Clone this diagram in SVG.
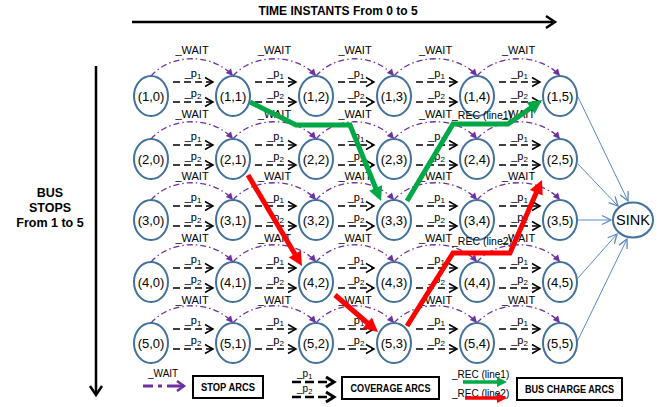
<svg xmlns="http://www.w3.org/2000/svg" width="670" height="407" viewBox="0 0 670 407">
<style>
text{font-family:"Liberation Sans",Arial,sans-serif;fill:#000}
.node ellipse{fill:#fff;stroke:#41719C;stroke-width:2}
.node text{font-size:13px;text-anchor:middle}
.wait{fill:none;stroke:#7030A0;stroke-width:1.3;stroke-dasharray:6 3 1.5 3;marker-end:url(#mp)}
.cov{fill:none;stroke:#000;stroke-width:1.4;stroke-dasharray:7 4;marker-end:url(#mb)}
.wl{font-size:11px;text-anchor:middle}
.pl{font-size:11px;text-anchor:middle}
.sk{fill:none;stroke:#5B88C6;stroke-width:1;marker-end:url(#ms)}
.g{fill:none;stroke:#00A846;stroke-width:5;stroke-linejoin:miter}
.r{fill:none;stroke:#FF0000;stroke-width:5;stroke-linejoin:miter}
.bx{fill:#fff;stroke:#000;stroke-width:2}
.bt{font-size:10px;font-weight:bold;text-anchor:middle}
.ax{font-size:12px;font-weight:bold;text-anchor:middle}
.rl{font-size:10.5px}
</style>
<defs>
<marker id="mb" markerUnits="userSpaceOnUse" markerWidth="12" markerHeight="12" refX="8" refY="4.5" orient="auto" overflow="visible"><path d="M0,0 L8,4.5 L0,9" fill="none" stroke="#000" stroke-width="1.5"/></marker>
<marker id="mp" markerUnits="userSpaceOnUse" markerWidth="10" markerHeight="10" refX="7" refY="3.5" orient="auto" overflow="visible"><path d="M0,0 L7,3.5 L0,7 z" fill="#7030A0"/></marker>
<marker id="ms" markerUnits="userSpaceOnUse" markerWidth="12" markerHeight="12" refX="9" refY="4.5" orient="auto" overflow="visible"><path d="M0,0 L9,4.5 L0,9" fill="none" stroke="#5B88C6" stroke-width="1.3"/></marker>
<marker id="mg" markerUnits="userSpaceOnUse" markerWidth="16" markerHeight="16" refX="4" refY="7" orient="auto" overflow="visible"><path d="M0,0 L14,7 L0,14 z" fill="#00A846"/></marker>
<marker id="mr" markerUnits="userSpaceOnUse" markerWidth="16" markerHeight="16" refX="4" refY="7" orient="auto" overflow="visible"><path d="M0,0 L14,7 L0,14 z" fill="#FF0000"/></marker>
<marker id="mgl" markerUnits="userSpaceOnUse" markerWidth="12" markerHeight="12" refX="3" refY="5" orient="auto" overflow="visible"><path d="M0,0 L10,5 L0,10 z" fill="#00A846"/></marker>
<marker id="mrl" markerUnits="userSpaceOnUse" markerWidth="12" markerHeight="12" refX="3" refY="5" orient="auto" overflow="visible"><path d="M0,0 L10,5 L0,10 z" fill="#FF0000"/></marker>
<marker id="mpl" markerUnits="userSpaceOnUse" markerWidth="12" markerHeight="12" refX="7" refY="5" orient="auto" overflow="visible"><path d="M0,0 L7,5 L0,10" fill="none" stroke="#7030A0" stroke-width="2.5"/></marker>
<marker id="mbl" markerUnits="userSpaceOnUse" markerWidth="12" markerHeight="12" refX="8" refY="5" orient="auto" overflow="visible"><path d="M0,0 L8,5 L0,10" fill="none" stroke="#000" stroke-width="3"/></marker>
</defs>

<!-- axes -->
<g id="axes">
<text class="ax" x="338" y="15">TIME INSTANTS From 0 to 5</text>
<path d="M132,22 L553,22" stroke="#000" stroke-width="2.5"/>
<path d="M546,16 L555,22 L546,28" fill="none" stroke="#000" stroke-width="2.5"/>
<path d="M96,66 L96,393" stroke="#000" stroke-width="2.5"/>
<path d="M90,386 L96,395 L102,386" fill="none" stroke="#000" stroke-width="2.5"/>
<text class="ax" font-size="12.5" x="50" y="197" style="font-size:12.5px">BUS</text>
<text class="ax" x="50" y="212" style="font-size:12.5px">STOPS</text>
<text class="ax" x="50" y="227" style="font-size:12.5px">From 1 to 5</text>
</g>

<!-- connectors -->
<g id="connectors">
<!-- wait arcs -->
<g id="wait-arcs">
<path class="wait" d="M151,76 C171,53 213,53 233,76"/>
<path class="wait" d="M233,76 C253,53 296,53 316,76"/>
<path class="wait" d="M316,76 C336,53 374,53 394,76"/>
<path class="wait" d="M394,76 C414,53 457,53 477,76"/>
<path class="wait" d="M477,76 C497,53 540,53 560,76"/>
<path class="wait" d="M151,139 C171,116 213,116 233,139"/>
<path class="wait" d="M233,139 C253,116 296,116 316,139"/>
<path class="wait" d="M316,139 C336,116 374,116 394,139"/>
<path class="wait" d="M394,139 C414,116 457,116 477,139"/>
<path class="wait" d="M477,139 C497,116 540,116 560,139"/>
<path class="wait" d="M151,200 C171,177 213,177 233,200"/>
<path class="wait" d="M233,200 C253,177 296,177 316,200"/>
<path class="wait" d="M316,200 C336,177 374,177 394,200"/>
<path class="wait" d="M394,200 C414,177 457,177 477,200"/>
<path class="wait" d="M477,200 C497,177 540,177 560,200"/>
<path class="wait" d="M151,262 C171,239 213,239 233,262"/>
<path class="wait" d="M233,262 C253,239 296,239 316,262"/>
<path class="wait" d="M316,262 C336,239 374,239 394,262"/>
<path class="wait" d="M394,262 C414,239 457,239 477,262"/>
<path class="wait" d="M477,262 C497,239 540,239 560,262"/>
<path class="wait" d="M151,323 C171,300 213,300 233,323"/>
<path class="wait" d="M233,323 C253,300 296,300 316,323"/>
<path class="wait" d="M316,323 C336,300 374,300 394,323"/>
<path class="wait" d="M394,323 C414,300 457,300 477,323"/>
<path class="wait" d="M477,323 C497,300 540,300 560,323"/>
</g>
<g id="wait-labels">
<text class="wl" x="192" y="54">_WAIT</text><text class="wl" x="274.5" y="54">_WAIT</text><text class="wl" x="355" y="54">_WAIT</text><text class="wl" x="435.5" y="54">_WAIT</text><text class="wl" x="518.5" y="54">_WAIT</text>
<text class="wl" x="192" y="118">_WAIT</text><text class="wl" x="274.5" y="118">_WAIT</text><text class="wl" x="355" y="118">_WAIT</text><text class="wl" x="435.5" y="118">_WAIT</text><text class="wl" x="518.5" y="118">_WAIT</text>
<text class="wl" x="192" y="180">_WAIT</text><text class="wl" x="274.5" y="180">_WAIT</text><text class="wl" x="355" y="180">_WAIT</text><text class="wl" x="435.5" y="180">_WAIT</text><text class="wl" x="518.5" y="180">_WAIT</text>
<text class="wl" x="192" y="242">_WAIT</text><text class="wl" x="274.5" y="242">_WAIT</text><text class="wl" x="355" y="242">_WAIT</text><text class="wl" x="435.5" y="242">_WAIT</text><text class="wl" x="518.5" y="242">_WAIT</text>
<text class="wl" x="192" y="304">_WAIT</text><text class="wl" x="274.5" y="304">_WAIT</text><text class="wl" x="355" y="304">_WAIT</text><text class="wl" x="435.5" y="304">_WAIT</text><text class="wl" x="518.5" y="304">_WAIT</text>
</g>
<!-- coverage arcs -->
<g id="coverage-arcs">
<path class="cov" d="M173,82 L213,82"/><path class="cov" d="M255,82 L296,82"/><path class="cov" d="M338,82 L374,82"/><path class="cov" d="M416,82 L457,82"/><path class="cov" d="M499,82 L540,82"/>
<path class="cov" d="M173,102 L213,102"/><path class="cov" d="M255,102 L296,102"/><path class="cov" d="M338,102 L374,102"/><path class="cov" d="M416,102 L457,102"/><path class="cov" d="M499,102 L540,102"/>
<path class="cov" d="M173,145 L213,145"/><path class="cov" d="M255,145 L296,145"/><path class="cov" d="M338,145 L374,145"/><path class="cov" d="M416,145 L457,145"/><path class="cov" d="M499,145 L540,145"/>
<path class="cov" d="M173,165 L213,165"/><path class="cov" d="M255,165 L296,165"/><path class="cov" d="M338,165 L374,165"/><path class="cov" d="M416,165 L457,165"/><path class="cov" d="M499,165 L540,165"/>
<path class="cov" d="M173,206 L213,206"/><path class="cov" d="M255,206 L296,206"/><path class="cov" d="M338,206 L374,206"/><path class="cov" d="M416,206 L457,206"/><path class="cov" d="M499,206 L540,206"/>
<path class="cov" d="M173,226 L213,226"/><path class="cov" d="M255,226 L296,226"/><path class="cov" d="M338,226 L374,226"/><path class="cov" d="M416,226 L457,226"/><path class="cov" d="M499,226 L540,226"/>
<path class="cov" d="M173,268 L213,268"/><path class="cov" d="M255,268 L296,268"/><path class="cov" d="M338,268 L374,268"/><path class="cov" d="M416,268 L457,268"/><path class="cov" d="M499,268 L540,268"/>
<path class="cov" d="M173,288 L213,288"/><path class="cov" d="M255,288 L296,288"/><path class="cov" d="M338,288 L374,288"/><path class="cov" d="M416,288 L457,288"/><path class="cov" d="M499,288 L540,288"/>
<path class="cov" d="M173,329 L213,329"/><path class="cov" d="M255,329 L296,329"/><path class="cov" d="M338,329 L374,329"/><path class="cov" d="M416,329 L457,329"/><path class="cov" d="M499,329 L540,329"/>
<path class="cov" d="M173,349 L213,349"/><path class="cov" d="M255,349 L296,349"/><path class="cov" d="M338,349 L374,349"/><path class="cov" d="M416,349 L457,349"/><path class="cov" d="M499,349 L540,349"/>
</g>
<g id="coverage-labels">
<text class="pl" x="193" y="77">_p<tspan font-size="8" dy="2">1</tspan></text><text class="pl" x="275.5" y="77">_p<tspan font-size="8" dy="2">1</tspan></text><text class="pl" x="356" y="77">_p<tspan font-size="8" dy="2">1</tspan></text><text class="pl" x="436.5" y="77">_p<tspan font-size="8" dy="2">1</tspan></text><text class="pl" x="519.5" y="77">_p<tspan font-size="8" dy="2">1</tspan></text>
<text class="pl" x="193" y="97">_p<tspan font-size="8" dy="2">2</tspan></text><text class="pl" x="275.5" y="97">_p<tspan font-size="8" dy="2">2</tspan></text><text class="pl" x="356" y="97">_p<tspan font-size="8" dy="2">2</tspan></text><text class="pl" x="436.5" y="97">_p<tspan font-size="8" dy="2">2</tspan></text><text class="pl" x="519.5" y="97">_p<tspan font-size="8" dy="2">2</tspan></text>
<text class="pl" x="193" y="140">_p<tspan font-size="8" dy="2">1</tspan></text><text class="pl" x="275.5" y="140">_p<tspan font-size="8" dy="2">1</tspan></text><text class="pl" x="356" y="140">_p<tspan font-size="8" dy="2">1</tspan></text><text class="pl" x="436.5" y="140">_p<tspan font-size="8" dy="2">1</tspan></text><text class="pl" x="519.5" y="140">_p<tspan font-size="8" dy="2">1</tspan></text>
<text class="pl" x="193" y="160">_p<tspan font-size="8" dy="2">2</tspan></text><text class="pl" x="275.5" y="160">_p<tspan font-size="8" dy="2">2</tspan></text><text class="pl" x="356" y="160">_p<tspan font-size="8" dy="2">2</tspan></text><text class="pl" x="436.5" y="160">_p<tspan font-size="8" dy="2">2</tspan></text><text class="pl" x="519.5" y="160">_p<tspan font-size="8" dy="2">2</tspan></text>
<text class="pl" x="193" y="201">_p<tspan font-size="8" dy="2">1</tspan></text><text class="pl" x="275.5" y="201">_p<tspan font-size="8" dy="2">1</tspan></text><text class="pl" x="356" y="201">_p<tspan font-size="8" dy="2">1</tspan></text><text class="pl" x="436.5" y="201">_p<tspan font-size="8" dy="2">1</tspan></text><text class="pl" x="519.5" y="201">_p<tspan font-size="8" dy="2">1</tspan></text>
<text class="pl" x="193" y="221">_p<tspan font-size="8" dy="2">2</tspan></text><text class="pl" x="275.5" y="221">_p<tspan font-size="8" dy="2">2</tspan></text><text class="pl" x="356" y="221">_p<tspan font-size="8" dy="2">2</tspan></text><text class="pl" x="436.5" y="221">_p<tspan font-size="8" dy="2">2</tspan></text><text class="pl" x="519.5" y="221">_p<tspan font-size="8" dy="2">2</tspan></text>
<text class="pl" x="193" y="263">_p<tspan font-size="8" dy="2">1</tspan></text><text class="pl" x="275.5" y="263">_p<tspan font-size="8" dy="2">1</tspan></text><text class="pl" x="356" y="263">_p<tspan font-size="8" dy="2">1</tspan></text><text class="pl" x="436.5" y="263">_p<tspan font-size="8" dy="2">1</tspan></text><text class="pl" x="519.5" y="263">_p<tspan font-size="8" dy="2">1</tspan></text>
<text class="pl" x="193" y="283">_p<tspan font-size="8" dy="2">2</tspan></text><text class="pl" x="275.5" y="283">_p<tspan font-size="8" dy="2">2</tspan></text><text class="pl" x="356" y="283">_p<tspan font-size="8" dy="2">2</tspan></text><text class="pl" x="436.5" y="283">_p<tspan font-size="8" dy="2">2</tspan></text><text class="pl" x="519.5" y="283">_p<tspan font-size="8" dy="2">2</tspan></text>
<text class="pl" x="193" y="324">_p<tspan font-size="8" dy="2">1</tspan></text><text class="pl" x="275.5" y="324">_p<tspan font-size="8" dy="2">1</tspan></text><text class="pl" x="356" y="324">_p<tspan font-size="8" dy="2">1</tspan></text><text class="pl" x="436.5" y="324">_p<tspan font-size="8" dy="2">1</tspan></text><text class="pl" x="519.5" y="324">_p<tspan font-size="8" dy="2">1</tspan></text>
<text class="pl" x="193" y="344">_p<tspan font-size="8" dy="2">2</tspan></text><text class="pl" x="275.5" y="344">_p<tspan font-size="8" dy="2">2</tspan></text><text class="pl" x="356" y="344">_p<tspan font-size="8" dy="2">2</tspan></text><text class="pl" x="436.5" y="344">_p<tspan font-size="8" dy="2">2</tspan></text><text class="pl" x="519.5" y="344">_p<tspan font-size="8" dy="2">2</tspan></text>
</g>
<!-- sink arcs -->
<g id="sink-arcs">
<path class="sk" d="M578,97 L628,201"/>
<path class="sk" d="M578,164 L618,206"/>
<path class="sk" d="M578,220 L611,220"/>
<path class="sk" d="M578,278 L617,234"/>
<path class="sk" d="M577,342 L627,239"/>
</g>
</g>

<!-- nodes -->
<g id="n1-0" class="node"><ellipse cx="151" cy="96" rx="17" ry="20"/><text x="151" y="101">(1,0)</text></g>
<g id="n1-1" class="node"><ellipse cx="233" cy="96" rx="17" ry="20"/><text x="233" y="101">(1,1)</text></g>
<g id="n1-2" class="node"><ellipse cx="316" cy="96" rx="17" ry="20"/><text x="316" y="101">(1,2)</text></g>
<g id="n1-3" class="node"><ellipse cx="394" cy="96" rx="17" ry="20"/><text x="394" y="101">(1,3)</text></g>
<g id="n1-4" class="node"><ellipse cx="477" cy="96" rx="17" ry="20"/><text x="477" y="101">(1,4)</text></g>
<g id="n1-5" class="node"><ellipse cx="560" cy="96" rx="17" ry="20"/><text x="560" y="101">(1,5)</text></g>
<g id="n2-0" class="node"><ellipse cx="151" cy="159" rx="17" ry="20"/><text x="151" y="164">(2,0)</text></g>
<g id="n2-1" class="node"><ellipse cx="233" cy="159" rx="17" ry="20"/><text x="233" y="164">(2,1)</text></g>
<g id="n2-2" class="node"><ellipse cx="316" cy="159" rx="17" ry="20"/><text x="316" y="164">(2,2)</text></g>
<g id="n2-3" class="node"><ellipse cx="394" cy="159" rx="17" ry="20"/><text x="394" y="164">(2,3)</text></g>
<g id="n2-4" class="node"><ellipse cx="477" cy="159" rx="17" ry="20"/><text x="477" y="164">(2,4)</text></g>
<g id="n2-5" class="node"><ellipse cx="560" cy="159" rx="17" ry="20"/><text x="560" y="164">(2,5)</text></g>
<g id="n3-0" class="node"><ellipse cx="151" cy="220" rx="17" ry="20"/><text x="151" y="225">(3,0)</text></g>
<g id="n3-1" class="node"><ellipse cx="233" cy="220" rx="17" ry="20"/><text x="233" y="225">(3,1)</text></g>
<g id="n3-2" class="node"><ellipse cx="316" cy="220" rx="17" ry="20"/><text x="316" y="225">(3,2)</text></g>
<g id="n3-3" class="node"><ellipse cx="394" cy="220" rx="17" ry="20"/><text x="394" y="225">(3,3)</text></g>
<g id="n3-4" class="node"><ellipse cx="477" cy="220" rx="17" ry="20"/><text x="477" y="225">(3,4)</text></g>
<g id="n3-5" class="node"><ellipse cx="560" cy="220" rx="17" ry="20"/><text x="560" y="225">(3,5)</text></g>
<g id="n4-0" class="node"><ellipse cx="151" cy="282" rx="17" ry="20"/><text x="151" y="287">(4,0)</text></g>
<g id="n4-1" class="node"><ellipse cx="233" cy="282" rx="17" ry="20"/><text x="233" y="287">(4,1)</text></g>
<g id="n4-2" class="node"><ellipse cx="316" cy="282" rx="17" ry="20"/><text x="316" y="287">(4,2)</text></g>
<g id="n4-3" class="node"><ellipse cx="394" cy="282" rx="17" ry="20"/><text x="394" y="287">(4,3)</text></g>
<g id="n4-4" class="node"><ellipse cx="477" cy="282" rx="17" ry="20"/><text x="477" y="287">(4,4)</text></g>
<g id="n4-5" class="node"><ellipse cx="560" cy="282" rx="17" ry="20"/><text x="560" y="287">(4,5)</text></g>
<g id="n5-0" class="node"><ellipse cx="151" cy="343" rx="17" ry="20"/><text x="151" y="348">(5,0)</text></g>
<g id="n5-1" class="node"><ellipse cx="233" cy="343" rx="17" ry="20"/><text x="233" y="348">(5,1)</text></g>
<g id="n5-2" class="node"><ellipse cx="316" cy="343" rx="17" ry="20"/><text x="316" y="348">(5,2)</text></g>
<g id="n5-3" class="node"><ellipse cx="394" cy="343" rx="17" ry="20"/><text x="394" y="348">(5,3)</text></g>
<g id="n5-4" class="node"><ellipse cx="477" cy="343" rx="17" ry="20"/><text x="477" y="348">(5,4)</text></g>
<g id="n5-5" class="node"><ellipse cx="560" cy="343" rx="17" ry="20"/><text x="560" y="348">(5,5)</text></g>
<g id="sink" class="node"><ellipse cx="633" cy="220" rx="20" ry="17.5"/><text x="633" y="225" style="font-size:14.5px">SINK</text></g>

<!-- bus charge arcs -->
<g id="rec-arcs">
<text class="rl" x="452" y="119">_REC (line1)</text>
<text class="rl" x="452" y="245">_REC (line2)</text>
<path class="g" d="M250,102 L296,125 L350,125 L377.2,191.7" marker-end="url(#mg)"/>
<path class="g" d="M407,201 L453,124 L508,124 L533.9,105.8" marker-end="url(#mg)"/>
<path class="r" d="M248,175 L296.9,257.4" marker-end="url(#mr)"/>
<path class="r" d="M335,295 L370.4,325.5" marker-end="url(#mr)"/>
<path class="r" d="M407,326 L453,253 L510,253 L537.9,189.1" marker-end="url(#mr)"/>
</g>

<!-- legend -->
<g id="legend-stop">
<text x="148" y="377" style="font-size:10px">_WAIT</text>
<path d="M143,386 L184,386" fill="none" stroke="#7030A0" stroke-width="3" stroke-dasharray="10 5 4 5 30" marker-end="url(#mpl)"/>
<rect class="bx" x="193" y="376" width="70" height="22"/>
<text class="bt" x="228" y="391" textLength="54" lengthAdjust="spacingAndGlyphs">STOP ARCS</text>
</g>
<g id="legend-coverage">
<text x="297" y="377" style="font-size:10px">_p<tspan font-size="7.5" dy="2">1</tspan></text>
<path d="M292,382 L334,382" fill="none" stroke="#000" stroke-width="2.5" stroke-dasharray="9 4" marker-end="url(#mbl)"/>
<text x="297" y="392" style="font-size:10px">_p<tspan font-size="7.5" dy="2">2</tspan></text>
<path d="M292,397 L334,397" fill="none" stroke="#000" stroke-width="2.5" stroke-dasharray="9 4" marker-end="url(#mbl)"/>
<rect class="bx" x="342" y="377" width="97" height="22"/>
<text class="bt" x="390.5" y="392" textLength="80" lengthAdjust="spacingAndGlyphs">COVERAGE ARCS</text>
</g>
<g id="legend-rec">
<text x="452" y="378" style="font-size:10px">_REC (line1)</text>
<path d="M463,382 L500,382" fill="none" stroke="#00A846" stroke-width="3.5" marker-end="url(#mgl)"/>
<text x="452" y="397" style="font-size:10px">_REC (line2)</text>
<path d="M465,398 L500,398" fill="none" stroke="#FF0000" stroke-width="3.5" marker-end="url(#mrl)"/>
<rect class="bx" x="517" y="378" width="105" height="22"/>
<text class="bt" x="569.5" y="393" textLength="89" lengthAdjust="spacingAndGlyphs">BUS CHARGE ARCS</text>
</g>
</svg>
